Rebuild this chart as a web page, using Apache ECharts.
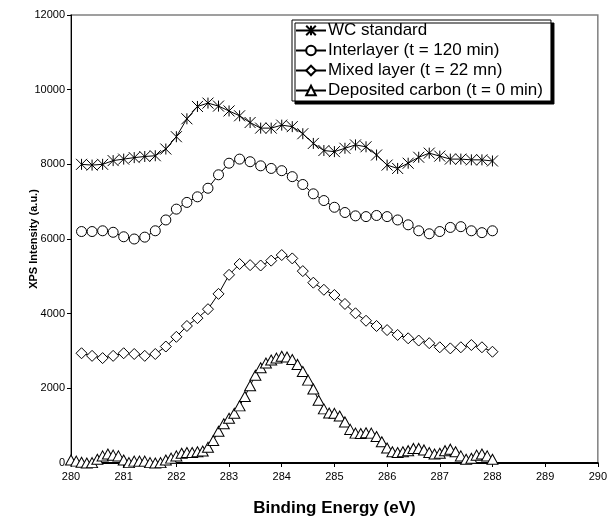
<!DOCTYPE html>
<html>
<head>
<meta charset="utf-8">
<script src="https://cdn.jsdelivr.net/npm/echarts@6/dist/echarts.min.js"></script>
<style>
  html, body { margin: 0; padding: 0; background: #fff; }
  #chart { width: 610px; height: 522px; }
</style>
</head>
<body>
<div id="chart"></div>
<script>
// Binding energies (eV) of the 0.2 eV-step scans
const energyCoarse = [
  280.2, 280.4, 280.6, 280.8, 281.0, 281.2, 281.4, 281.6, 281.8, 282.0,
  282.2, 282.4, 282.6, 282.8, 283.0, 283.2, 283.4, 283.6, 283.8, 284.0,
  284.2, 284.4, 284.6, 284.8, 285.0, 285.2, 285.4, 285.6, 285.8, 286.0,
  286.2, 286.4, 286.6, 286.8, 287.0, 287.2, 287.4, 287.6, 287.8, 288.0
];

// Binding energies (eV) of the 0.1 eV-step scan
const energyFine = [
  280.0, 280.1, 280.2, 280.3, 280.4, 280.5, 280.6, 280.7, 280.8, 280.9,
  281.0, 281.1, 281.2, 281.3, 281.4, 281.5, 281.6, 281.7, 281.8, 281.9,
  282.0, 282.1, 282.2, 282.3, 282.4, 282.5, 282.6, 282.7, 282.8, 282.9,
  283.0, 283.1, 283.2, 283.3, 283.4, 283.5, 283.6, 283.7, 283.8, 283.9,
  284.0, 284.1, 284.2, 284.3, 284.4, 284.5, 284.6, 284.7, 284.8, 284.9,
  285.0, 285.1, 285.2, 285.3, 285.4, 285.5, 285.6, 285.7, 285.8, 285.9,
  286.0, 286.1, 286.2, 286.3, 286.4, 286.5, 286.6, 286.7, 286.8, 286.9,
  287.0, 287.1, 287.2, 287.3, 287.4, 287.5, 287.6, 287.7, 287.8, 287.9,
  288.0
];

// XPS intensities (a.u.), offset spectra
const wcStandard = [
  8000, 7980, 8000, 8100, 8140, 8180, 8210, 8230, 8410, 8740,
  9220, 9550, 9640, 9560, 9430, 9300, 9120, 8970, 8970, 9050,
  9010, 8820, 8560, 8370, 8340, 8430, 8520, 8470, 8250, 7980,
  7890, 8030, 8190, 8300, 8220, 8140, 8140, 8120, 8120, 8090
];

const interlayer = [
  6200, 6200, 6220, 6180, 6060, 6000, 6050, 6220, 6510, 6800,
  6980, 7130, 7360, 7720, 8030, 8140, 8070, 7960, 7890, 7830,
  7670, 7460, 7210, 7030, 6850, 6710, 6620, 6600, 6630, 6600,
  6510, 6380, 6220, 6140, 6200, 6310, 6330, 6220, 6170, 6220
];

const mixedLayer = [
  2940, 2870, 2810, 2870, 2940, 2920, 2870, 2920, 3120, 3380,
  3670, 3880, 4120, 4530, 5040, 5330, 5300, 5290, 5420, 5570,
  5480, 5140, 4830, 4640, 4500, 4260, 4010, 3810, 3670, 3560,
  3430, 3340, 3280, 3210, 3100, 3070, 3100, 3160, 3100, 2980
];

const depositedCarbon = [
  80, 50, 20, 0, 10, 100, 190, 240, 210, 190,
  80, 10, 50, 50, 50, 10, 0, 10, 80, 130,
  190, 260, 280, 280, 300, 320, 420, 600, 850, 1050,
  1200, 1330, 1530, 1780, 2070, 2350, 2550, 2680, 2760, 2810,
  2860, 2840, 2770, 2640, 2450, 2220, 1980, 1680, 1450, 1340,
  1330, 1260, 1100, 900, 800, 790, 810, 800, 710, 570,
  400, 300, 280, 300, 330, 390, 390, 350, 280, 240,
  260, 330, 370, 300, 190, 100, 125, 210, 240, 190,
  100
];

const seriesNames = [
  'WC standard',
  'Interlayer (t = 120 min)',
  'Mixed layer (t = 22 mn)',
  'Deposited carbon (t = 0 min)'
];

const xTicks = { min: 280, max: 290, step: 1 };
const yTicks = { min: 0, max: 12000, step: 2000 };

const FONT = 'Arial, "Liberation Sans", sans-serif';
const ASTERISK = 'path://M0,0L10,10M10,0L0,10M5,0L5,10';

function pairs(xs, ys) {
  return xs.map((x, i) => [x, ys[i]]);
}

function spectrum(name, xs, ys, symbol, size) {
  return {
    name: name,
    type: 'line',
    data: pairs(xs, ys),
    symbol: symbol,
    symbolSize: size,
    showAllSymbol: true,
    animation: false,
    lineStyle: { color: '#000', width: 1 },
    itemStyle: { color: '#fff', borderColor: '#000', borderWidth: 1 },
    emphasis: { disabled: true }
  };
}

const chart = echarts.init(document.getElementById('chart'), null, { renderer: 'canvas' });

chart.setOption({
  animation: false,
  backgroundColor: '#fff',
  grid: {
    left: 71, right: 11, top: 15, bottom: 59,
    show: true, borderColor: '#808080', borderWidth: 1.5, backgroundColor: 'transparent'
  },
  legend: {
    orient: 'vertical',
    left: 292, top: 20,
    padding: [2, 8, 2, 3],
    itemGap: 3,
    itemWidth: 30,
    itemHeight: 12,
    backgroundColor: '#fff',
    borderColor: '#000',
    borderWidth: 1,
    borderRadius: 0,
    shadowColor: '#000',
    shadowBlur: 0,
    shadowOffsetX: 3,
    shadowOffsetY: 3,
    textStyle: { fontFamily: FONT, fontSize: 17, lineHeight: 17, color: '#000', padding: [0, 0, 0, -3] },
    data: seriesNames
  },
  xAxis: {
    type: 'value',
    min: xTicks.min, max: xTicks.max, interval: xTicks.step,
    name: 'Binding Energy (eV)',
    nameLocation: 'middle',
    nameGap: 37,
    nameMoveOverlap: false,
    nameTextStyle: { fontFamily: FONT, fontSize: 17, fontWeight: 'bold', color: '#000' },
    axisLine: { onZero: false, lineStyle: { color: '#000', width: 2 } },
    axisTick: { show: true, inside: false, length: 4, lineStyle: { color: '#000', width: 1 } },
    axisLabel: { fontFamily: FONT, fontSize: 11, color: '#000', margin: 8 },
    splitLine: { show: false }
  },
  yAxis: {
    type: 'value',
    min: yTicks.min, max: yTicks.max, interval: yTicks.step,
    name: 'XPS Intensity (a.u.)',
    nameLocation: 'middle',
    nameGap: 32,
    nameMoveOverlap: false,
    nameRotate: 90,
    nameTextStyle: { fontFamily: FONT, fontSize: 11, fontWeight: 'bold', color: '#000' },
    axisLine: { show: true, lineStyle: { color: '#000', width: 1 } },
    axisTick: { show: true, inside: false, length: 4, lineStyle: { color: '#000', width: 1 } },
    axisLabel: { fontFamily: FONT, fontSize: 11, color: '#000', margin: 6, formatter: v => String(v) },
    splitLine: { show: false }
  },
  series: [
    spectrum(seriesNames[0], energyCoarse, wcStandard, ASTERISK, 11),
    spectrum(seriesNames[1], energyCoarse, interlayer, 'circle', 10),
    spectrum(seriesNames[2], energyCoarse, mixedLayer, 'diamond', 11),
    spectrum(seriesNames[3], energyFine, depositedCarbon, 'triangle', [11, 10])
  ]
});
</script>
</body>
</html>
